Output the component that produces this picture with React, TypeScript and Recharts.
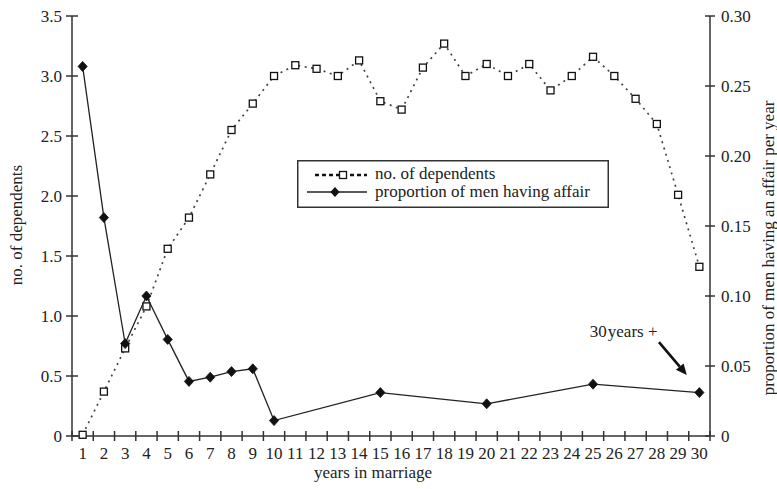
import React from 'react';
import { LineChart, Line, XAxis, YAxis, Legend, ReferenceLine, ReferenceDot } from 'recharts';

const years = [1,2,3,4,5,6,7,8,9,10,11,12,13,14,15,16,17,18,19,20,21,22,23,24,25,26,27,28,29,30];
const dependents = [0.01,0.37,0.73,1.08,1.56,1.82,2.18,2.55,2.77,3.0,3.09,3.06,3.0,3.13,2.79,2.72,3.07,3.27,3.0,3.1,3.0,3.1,2.88,3.0,3.16,3.0,2.81,2.6,2.01,1.41];
const affair: (number | null)[] = [0.264,0.156,0.066,0.100,0.069,0.039,0.042,0.046,0.048,0.011,null,null,null,null,0.031,null,null,null,null,0.023,null,null,null,null,0.037,null,null,null,null,0.031];
const leftTicks = [0,0.5,1,1.5,2,2.5,3,3.5];
const rightTicks = [0,0.05,0.1,0.15,0.2,0.25,0.3];
const xTicks: number[] = [];
for (let i = 0; i <= 30; i++) { xTicks.push(i + 0.5); if (i < 30) xTicks.push(i + 1); }
xTicks.sort((a, b) => a - b);

const data = years.map((y, i) => ({ year: y, dependents: dependents[i], affair: affair[i] }));

const FONT = '"Liberation Serif", "Times New Roman", serif';
const TXT = '#222';
const AX = '#333';
const FS = 17;

const XTick = (p: any) => {
  const v = p.payload.value;
  if (Number.isInteger(v)) {
    return <text x={p.x} y={p.y + 23} textAnchor="middle" fontFamily={FONT} fontSize={FS} fill={TXT}>{v}</text>;
  }
  return <line x1={p.x} x2={p.x} y1={p.y - 5} y2={p.y + 5} stroke={AX} strokeWidth={1.5} />;
};

const LeftTick = (p: any) => {
  const v = p.payload.value;
  return (
    <g>
      <line x1={p.x - 6} x2={p.x + 6} y1={p.y} y2={p.y} stroke={AX} strokeWidth={1.5} />
      <text x={p.x - 10} y={p.y + 6} textAnchor="end" fontFamily={FONT} fontSize={FS} fill={TXT}>{v === 0 ? '0' : v.toFixed(1)}</text>
    </g>
  );
};

const RightTick = (p: any) => {
  const v = p.payload.value;
  return (
    <g>
      <line x1={p.x - 5} x2={p.x + 5} y1={p.y} y2={p.y} stroke={AX} strokeWidth={1.5} />
      <text x={p.x + 11} y={p.y + 6} textAnchor="start" fontFamily={FONT} fontSize={FS} fill={TXT}>{v === 0 ? '0' : v.toFixed(2)}</text>
    </g>
  );
};

const SquareDot = (p: any) => {
  if (p.cx == null || p.cy == null) return <g key={p.key} />;
  return <rect key={p.key} x={p.cx - 3.5} y={p.cy - 3.5} width={7} height={7} fill="#fff" stroke="#111" strokeWidth={1.3} />;
};

const DiamondDot = (p: any) => {
  if (p.cx == null || p.cy == null || p.value == null) return <g key={p.key} />;
  const { cx, cy } = p;
  return <polygon key={p.key} points={`${cx},${cy - 5} ${cx + 4.6},${cy} ${cx},${cy + 5} ${cx - 4.6},${cy}`} fill="#111" stroke="#111" strokeWidth={0.8} />;
};

const LegendBox = () => (
  <svg width={312} height={48} style={{ display: 'block' }}>
    <rect x={0.75} y={0.75} width={310.5} height={46.5} fill="#fff" stroke={AX} strokeWidth={1.5} />
    <line x1={18} x2={70} y1={15} y2={15} stroke="#111" strokeWidth={2.5} strokeDasharray="4 3" />
    <rect x={42.5} y={11.5} width={7} height={7} fill="#fff" stroke="#111" strokeWidth={1.3} />
    <text x={78} y={19} fontFamily={FONT} fontSize={FS} fill={TXT}>no. of dependents</text>
    <line x1={10} x2={70} y1={32} y2={32} stroke="#222" strokeWidth={1.3} />
    <polygon points="38,27 42.6,32 38,37 33.4,32" fill="#111" />
    <text x={78} y={37} fontFamily={FONT} fontSize={FS} fill={TXT}>proportion of men having affair</text>
  </svg>
);

const Arrow = (p: any) => {
  const { x1, y1, x2, y2 } = p;
  const dx = x2 - x1, dy = y2 - y1;
  const len = Math.sqrt(dx * dx + dy * dy);
  const ux = dx / len, uy = dy / len;
  const hl = 11, hw = 5;
  const bx = x2 - ux * hl, by = y2 - uy * hl;
  return (
    <g>
      <line x1={x1} y1={y1} x2={bx} y2={by} stroke="#111" strokeWidth={2.6} />
      <polygon points={`${x2},${y2} ${bx - uy * hw},${by + ux * hw} ${bx + uy * hw},${by - ux * hw}`} fill="#111" />
    </g>
  );
};

const AnnotationText = (p: any) => (
  <text x={p.cx} y={p.cy} fontFamily={FONT} fontSize={FS} fill={TXT}>
    <tspan>30</tspan><tspan dx={1}>years +</tspan>
  </text>
);

export default function App() {
  return (
    <div style={{ position: 'absolute', left: 0, top: 0, background: '#fff' }}>
      <LineChart width={777} height={489} data={data} margin={{ top: 16, right: 0, bottom: 8, left: 0 }}>
        <XAxis
          dataKey="year"
          type="number"
          domain={[0.5, 30.5]}
          ticks={xTicks}
          interval={0}
          tickSize={0}
          tickMargin={0}
          tickLine={false}
          tick={XTick}
          height={45}
          axisLine={{ stroke: AX, strokeWidth: 1.5 }}
          label={{
            content: () => (
              <text x={373} y={478} textAnchor="middle" fontFamily={FONT} fontSize={FS} fill={TXT}>years in marriage</text>
            ),
          }}
        />
        <YAxis
          yAxisId="left"
          orientation="left"
          domain={[0, 3.5]}
          ticks={leftTicks}
          interval={0}
          width={72}
          tickSize={0}
          tickMargin={0}
          tickLine={false}
          tick={LeftTick}
          axisLine={{ stroke: AX, strokeWidth: 1.5 }}
          label={{
            content: () => (
              <text transform={`translate(22, 225) rotate(-90)`} textAnchor="middle" fontFamily={FONT} fontSize={FS} fill={TXT}>no. of dependents</text>
            ),
          }}
        />
        <YAxis
          yAxisId="right"
          orientation="right"
          domain={[0, 0.3]}
          ticks={rightTicks}
          interval={0}
          width={67}
          tickSize={0}
          tickMargin={0}
          tickLine={false}
          tick={RightTick}
          axisLine={{ stroke: AX, strokeWidth: 1.5 }}
          label={{
            content: () => (
              <text transform={`translate(774, 248) rotate(-90)`} textAnchor="middle" fontFamily={FONT} fontSize={FS} fill={TXT}>proportion of men having an affair per year</text>
            ),
          }}
        />
        <Legend
          layout="vertical"
          align="center"
          verticalAlign="middle"
          content={() => <LegendBox />}
          wrapperStyle={{ left: 297, top: 160, width: 312, height: 48 }}
        />
        <Line
          yAxisId="left"
          type="linear"
          dataKey="dependents"
          stroke="#444"
          strokeWidth={1.7}
          strokeDasharray="2 4.5"
          dot={SquareDot}
          activeDot={false}
          isAnimationActive={false}
        />
        <Line
          yAxisId="right"
          type="linear"
          dataKey="affair"
          stroke="#222"
          strokeWidth={1.3}
          connectNulls
          dot={DiamondDot}
          activeDot={false}
          isAnimationActive={false}
        />
        <ReferenceLine
          yAxisId="left"
          segment={[{ x: 28.1, y: 0.783 }, { x: 29.41, y: 0.508 }]}
          shape={Arrow}
        />
        <ReferenceDot yAxisId="left" x={24.85} y={0.825} r={0} shape={AnnotationText} />
      </LineChart>
    </div>
  );
}
